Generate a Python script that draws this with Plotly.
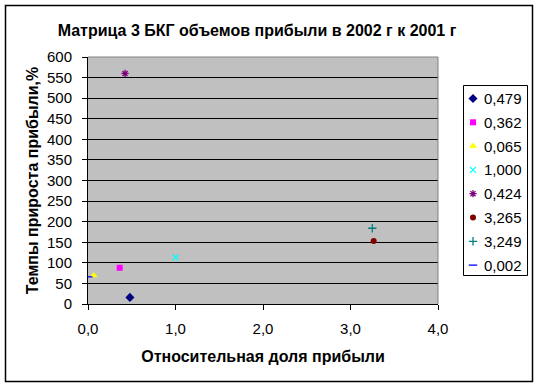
import plotly.graph_objects as go

labels = ["0,479", "0,362", "0,065", "1,000", "0,424", "3,265", "3,249", "0,002"]
x_vals = [0.479, 0.362, 0.065, 1.000, 0.424, 3.265, 3.249, 0.002]
y_vals = [16, 88, 69, 113, 560, 153, 184, 66]
colors = ["#000080", "#FF00FF", "#FFFF00", "#00FFFF", "#800080", "#800000", "#008080", "#0000FF"]
symbols = ["diamond", "square", "triangle-up", "x-thin", "asterisk-open", "circle", "cross-thin", "line-ew"]
sizes = [7, 6, 7, 6, 6, 6, 6, 6]

FONT = "Liberation Sans, Arial, sans-serif"
W, H = 539, 386
ml, mr, mt, mb = 5, 6, 5, 4
PW, PH = W - ml - mr, H - mt - mb      # paper (inside margins)
PL, PR, PT, PB = 88, 438, 57, 304      # main plot area in px
LEG_L, LEG_R, LEG_T, LEG_B = 463, 528, 85, 276


def px(x):
    return (x - ml) / PW


def py(y):
    return (H - mb - y) / PH


fig = go.Figure()
thin_set = ("x-thin", "asterisk-open", "cross-thin", "line-ew")
for i in range(len(labels)):
    sym = symbols[i]
    thin = sym in thin_set
    mk = dict(symbol=sym, size=sizes[i], color=colors[i],
              line=dict(color=colors[i], width=1.3 if thin else 0))
    fig.add_trace(go.Scatter(x=[x_vals[i]], y=[y_vals[i]], mode="markers", name=labels[i],
                             marker=mk, showlegend=False))
    # legend key (manual legend drawn in its own pixel-space subplot)
    ry = 98.5 + 23.8 * i
    fig.add_trace(go.Scatter(x=[473], y=[ry], mode="markers", xaxis="x2", yaxis="y2",
                             marker=mk, showlegend=False, hoverinfo="skip"))
    fig.add_annotation(text=labels[i], xref="paper", yref="paper", x=px(482), y=py(ry),
                       xanchor="left", yanchor="middle", showarrow=False,
                       font=dict(size=15, color="black"))

fig.update_layout(
    width=W, height=H,
    margin=dict(l=ml, r=mr, t=mt, b=mb, autoexpand=False),
    paper_bgcolor="white", plot_bgcolor="#C0C0C0",
    separators=", ",
    font=dict(family=FONT, size=15, color="black"),
    showlegend=False,
    title=dict(text="<b>Матрица 3 БКГ объемов прибыли в 2002 г к 2001 г</b>",
               x=257 / W, xanchor="center", y=1 - 30 / H, yanchor="middle",
               font=dict(size=16)),
    xaxis=dict(domain=[px(PL), px(PR)], range=[0, 4], dtick=1, tickformat=".1f",
               showgrid=False, zeroline=False, automargin=False,
               showline=True, linecolor="black", linewidth=1, ticks="outside",
               ticklen=5, tickcolor="black", ticklabelstandoff=6,
               title=dict(text="<b>Относительная доля прибыли</b>", standoff=14,
                          font=dict(size=16))),
    yaxis=dict(domain=[py(PB), py(PT)], range=[0, 600], dtick=50, showgrid=True,
               gridcolor="black", gridwidth=1, automargin=False,
               zeroline=False, showline=True, linecolor="black", linewidth=1,
               ticks="outside", ticklen=5, tickcolor="black", ticklabelstandoff=7,
               title=dict(text="<b>Темпы прироста прибыли,%</b>", standoff=4,
                          font=dict(size=16))),
    xaxis2=dict(domain=[px(LEG_L), px(LEG_R)], range=[LEG_L, LEG_R], anchor="y2",
                visible=False, fixedrange=True),
    yaxis2=dict(domain=[py(LEG_B), py(LEG_T)], range=[LEG_B, LEG_T], anchor="x2",
                visible=False, fixedrange=True),
)

# plot area top/right border (gray)
fig.add_shape(type="line", xref="paper", yref="paper", x0=px(PL), x1=px(PR), y0=py(PT), y1=py(PT),
              line=dict(color="#808080", width=1))
fig.add_shape(type="line", xref="paper", yref="paper", x0=px(PR), x1=px(PR), y0=py(PB), y1=py(PT),
              line=dict(color="#808080", width=1))
# legend box
fig.add_shape(type="rect", xref="paper", yref="paper",
              x0=px(LEG_L + 0.5), x1=px(LEG_R - 0.5), y0=py(LEG_B - 0.5), y1=py(LEG_T + 0.5),
              line=dict(color="black", width=1), fillcolor="white", layer="below")
# outer chart border
fig.add_shape(type="rect", xref="paper", yref="paper",
              x0=px(5.5), x1=px(532.5), y0=py(381.5), y1=py(5.5),
              line=dict(color="black", width=1.5), fillcolor="rgba(0,0,0,0)")

post = (
    "document.body.style.margin='0';"
    "document.body.style.overflow='hidden';"
    "window.scrollTo(0,0);"
)
fig.write_html("out.html", config={"displayModeBar": False}, post_script=post)
